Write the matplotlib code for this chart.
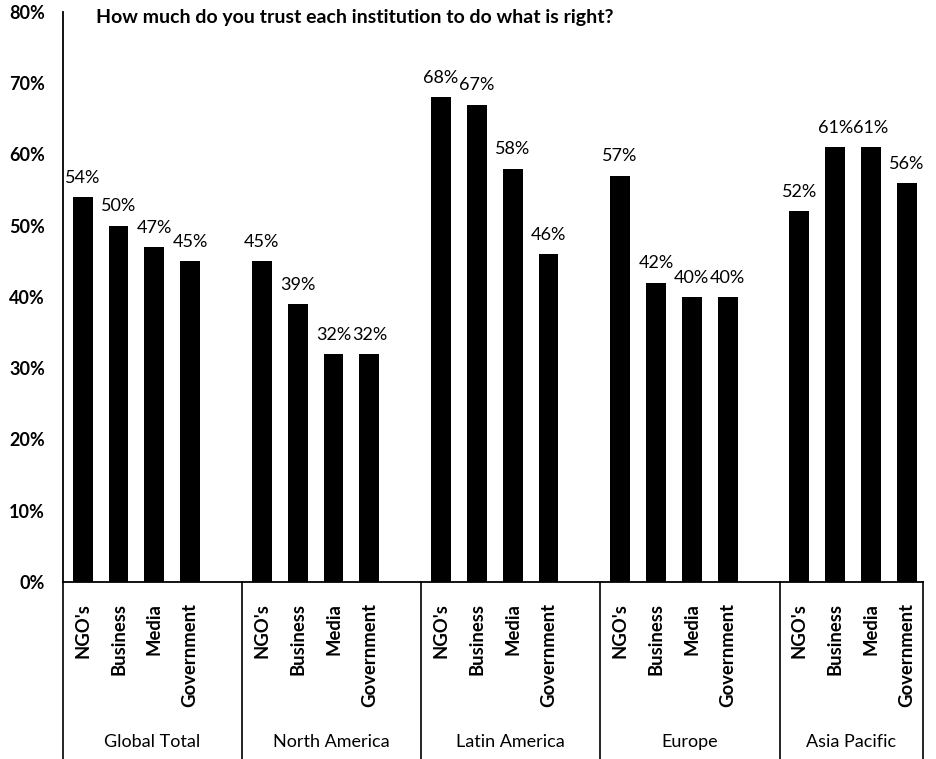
import matplotlib.pyplot as plt
import numpy as np

plt.rcParams['font.family'] = ['Lato', 'DejaVu Sans']

# data
regions = ['Global Total', 'North America', 'Latin America', 'Europe', 'Asia Pacific']
institutions = ["NGO's", 'Business', 'Media', 'Government']
trust = [
    [54, 50, 47, 45],
    [45, 39, 32, 32],
    [68, 67, 58, 46],
    [57, 42, 40, 40],
    [52, 61, 61, 56],
]
yticks = [0, 10, 20, 30, 40, 50, 60, 70, 80]

fig = plt.figure(figsize=(9.37, 7.59), dpi=100)
ax = fig.add_axes([0.0672, 0.2332, 0.9178, 0.751])

group_w = 5
xs, vals, labels = [], [], []
for g, row in enumerate(trust):
    for i, v in enumerate(row):
        xs.append(g * group_w + i + 0.55)
        vals.append(v)
        labels.append(institutions[i])

ax.bar(xs, vals, width=0.55, color='black')
for x, v in zip(xs, vals):
    ax.text(x, v + 1.6, f'{v}%', ha='center', va='bottom', fontsize=13)

ax.set_xlim(0, 24)
ax.set_ylim(0, 80)
ax.set_yticks(yticks)
ax.set_yticklabels([f'{t}%' for t in yticks], fontsize=13, fontweight='bold')
ax.tick_params(axis='y', length=0, pad=13)
ax.set_xticks(xs)
ax.set_xticklabels(labels, rotation=90, fontsize=13.3, fontweight='bold', va='top')
ax.tick_params(axis='x', length=0, pad=15)

for s in ['top', 'right']:
    ax.spines[s].set_visible(False)
ax.spines['left'].set_linewidth(1.3)
ax.spines['bottom'].set_linewidth(1.3)

# group separators below the axis
bottom = -0.31
for x in [0, 5, 10, 15, 20, 24]:
    ax.plot([x, x], [0, bottom], transform=ax.get_xaxis_transform(),
            color='black', lw=1.2, clip_on=False)
for g, name in enumerate(regions):
    right = min(g * group_w + group_w, 24)
    ax.text((g * group_w + right) / 2, -0.281, name, ha='center', va='center',
            fontsize=13, transform=ax.get_xaxis_transform())

ax.text(0.038, 0.9895, 'How much do you trust each institution to do what is right?',
        transform=ax.transAxes, ha='left', va='center', fontsize=14, fontweight='bold')

fig.savefig('out.png', dpi=100)
